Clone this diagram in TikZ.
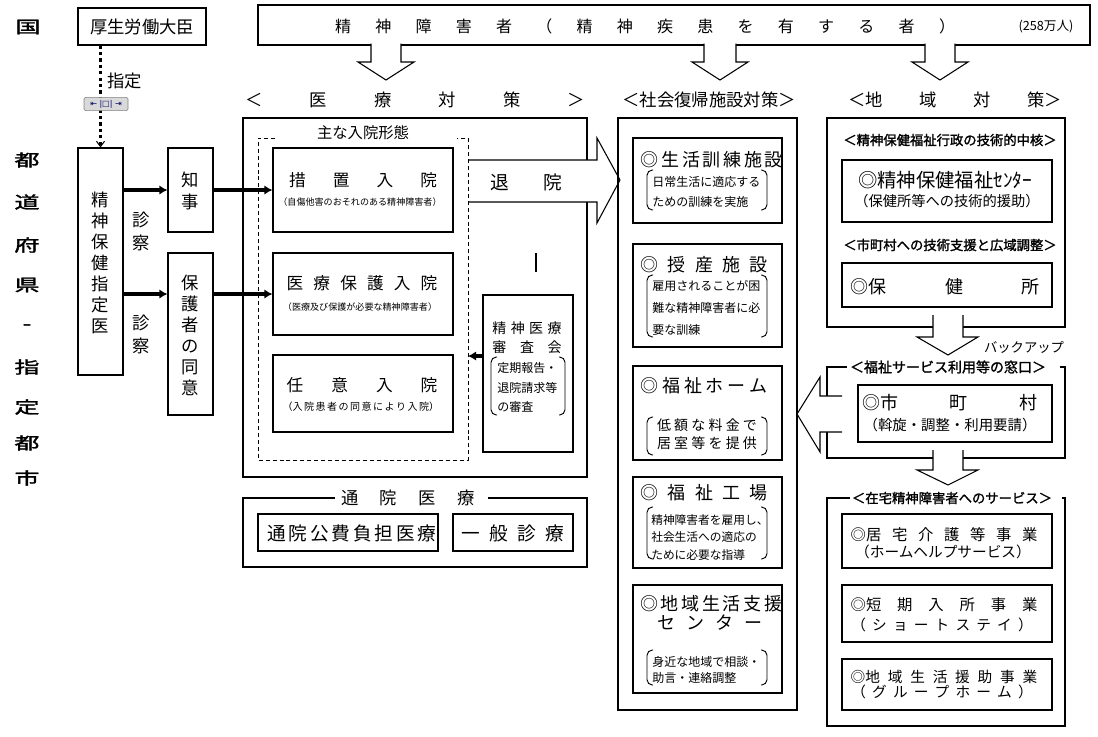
\documentclass[tikz,border=0pt]{standalone}
\usepackage{fontspec}
\setmainfont{Noto Sans CJK JP}
\newfontfamily\jb[FakeBold=1.6]{Noto Sans CJK JP}
\newfontfamily\dv{DejaVu Sans}
\usetikzlibrary{fit,arrows.meta}
\newcommand\jfs[2]{\fontsize{#1}{#2}\selectfont}
\newcommand\sprd[2]{\makebox[#1][s]{#2}}
\newcommand\jbrk[4]{%
  \draw[line width=0.7pt, rounded corners=4pt] (#1+6,#2) -- (#1,#2) -- (#1,#4) -- (#1+6,#4);
  \draw[line width=0.7pt, rounded corners=4pt] (#3-6,#2) -- (#3,#2) -- (#3,#4) -- (#3-6,#4);}
\begin{document}
\begin{tikzpicture}[x=0.75pt,y=-0.75pt,
  bx/.style={draw, line width=0.8pt, inner sep=0pt, fit={#1}},
  tbx/.style={draw, line width=2pt, inner sep=0pt, fit={#1}},
  t/.style={inner sep=0pt, align=center},
  bt/.style={inner sep=0pt, align=center, font=\jb\jfs{10pt}{12pt}},
  tarr/.style={line width=3pt, -{Latex[length=6pt,width=7pt]}},
  barrow/.style={draw, line width=0.8pt, fill=white},
  thk/.style={line width=2pt},
  dline/.style={line width=2.4pt, dash pattern=on 2.4pt off 2.4pt, -{Straight Barb[length=4pt,width=6pt,line width=0.8pt]}},
]
\useasboundingbox (0,0) rectangle (1098,736);

% ---- left labels
\node[t, font=\jb\jfs{12.5pt}{14pt}, xscale=1.5] (kuni) at (28,27) {国};
\foreach \c/\yy [count=\i] in {都/160,道/202,府/245,県/285,-/327,指/367,定/407,都/443,市/478}
  \node[t, font=\jb\jfs{12.5pt}{14pt}, xscale=1.5] (pref\i) at (27,\yy) {\c};

% ---- minister
\node[bx={(78,8) (206,45)}] (mhlw) {};
\node[t, font=\jfs{13pt}{15pt}] (mhlwT) at (mhlw.center) {厚生労働大臣};

% ---- banner
\node[bx={(258,5) (1090,45)}] (banner) {};
\node[t, font=\jfs{12pt}{14pt}] (bannerT) at (645,26) {\sprd{465pt}{精 神 障 害 者 （ 精 神 疾 患 を 有 す る 者 ）}};
\node[t, font=\jfs{9.5pt}{11pt}] (bannerN) at (1046,27) {(258万人)};
\draw[barrow] (371,43.5) -- (371,62) -- (358,62) -- (386,80) -- (414,62) -- (401,62) -- (401,43.5);
\draw[barrow] (704,43.5) -- (704,62) -- (692,62) -- (720,80) -- (748,62) -- (736,62) -- (736,43.5);
\draw[barrow] (925,43.5) -- (925,62) -- (912,62) -- (940,80) -- (968,62) -- (955,62) -- (955,43.5);

% ---- section headings
\node[t, font=\jfs{13pt}{15pt}] (h1) at (415,100) {\sprd{255pt}{＜ 医 療 対 策 ＞}};
\node[t, font=\jfs{13pt}{15pt}] (h2) at (711,100) {\sprd{133pt}{＜社会復帰施設対策＞}};
\node[t, font=\jfs{13pt}{15pt}] (h3) at (955,100) {\sprd{160pt}{＜地 域 対 策＞}};

% ---- prefecture column
\node[bx={(78,148) (123,375)}] (shitei) {};
\node[t, font=\jfs{13pt}{15.75pt}] (shiteiT) at (100.5,263) {精\\神\\保\\健\\指\\定\\医};
\node[bx={(168,148) (213,232)}] (chiji) {};
\node[t, font=\jfs{13pt}{16.5pt}] (chijiT) at (190.5,191) {知\\事};
\node[bx={(168,253) (213,415)}] (hogo) {};
\node[t, font=\jfs{13pt}{15.75pt}] (hogoT) at (190.5,335.5) {保\\護\\者\\の\\同\\意};
\node[t, font=\jfs{13pt}{17.25pt}] (shin1) at (141,231.5) {診\\察};
\node[t, font=\jfs{13pt}{17.25pt}] (shin2) at (141,334) {診\\察};

\draw[dline] (shitei.north |- mhlw.south) -- (shitei.north);
\node[t, anchor=west, font=\jfs{13pt}{15pt}] (shiteiL) at (107,81) {指定};
\node[draw=gray, fill=gray!30, rounded corners=1pt, inner sep=0.5pt, minimum width=33pt, minimum height=10pt,
      font=\dv\fontsize{6pt}{7pt}\selectfont, text=blue!40!black] (handle) at (106,104) {⇤ |□| ⇥};

% ---- medical box
\node[tbx={(243,118) (587,477)}] (med) {};
\draw[barrow] (468,160) -- (597,160) -- (597,138) -- (620,180) -- (597,223) -- (597,202) -- (468,202);
\node[t, font=\jfs{14pt}{16pt}] (taiinT) at (526,182) {\sprd{54pt}{退 院}};
\draw[line width=0.7pt, dash pattern=on 3pt off 2.2pt] (275,138) -- (258,138) -- (258,460) -- (468,460) -- (468,138) -- (457,138);
\node[t, font=\jfs{11.5pt}{13pt}] (keitai) at (363,133) {主な入院形態};
\coordinate (dashR) at (468,356);

\node[bx={(273,148) (453,232)}] (sochi) {};
\node[t, font=\jfs{12.5pt}{15pt}] (sochiT) at (363,180) {\sprd{111pt}{措 置 入 院}};
\node[t, font=\jfs{6.8pt}{8pt}] (sochiS) at (360,202) {（自傷他害のおそれのある精神障害者）};
\node[bx={(273,253) (453,335)}] (iryo) {};
\node[t, font=\jfs{12.5pt}{15pt}] (iryoT) at (362,283) {\sprd{113pt}{医 療 保 護 入 院}};
\node[t, font=\jfs{6.8pt}{8pt}] (iryoS) at (360,307) {（医療及び保護が必要な精神障害者）};
\node[bx={(273,355) (453,432)}] (nini) {};
\node[t, font=\jfs{12.5pt}{15pt}] (niniT) at (362,385) {\sprd{113pt}{任 意 入 院}};
\node[t, font=\jfs{7.5pt}{9pt}] (niniS) at (360,407) {\sprd{116pt}{（入 院 患 者 の 同 意 に よ り 入 院）}};

\draw[line width=1.2pt] (536,253) -- (536,272);

\node[bx={(483,295) (573,452)}] (shinsa) {};
\node[t, font=\jfs{10.5pt}{14.25pt}] (shinsaT) at (527,337.5) {\sprd{52pt}{精 神 医 療}\\\sprd{52pt}{審 査 会}};
\jbrk{491}{357}{565}{415}
\node[t, anchor=west, align=left, font=\jfs{9pt}{14.6pt}] (shinsaS) at (497,387.5) {定期報告・\\退院請求等\\の審査};

\draw[tarr] (shitei.east |- chiji.center) -- (chiji.west);
\draw[tarr] (chiji.east) -- (sochi.west |- chiji.center);
\draw[tarr] (shitei.east |- iryo.center) -- (hogo.west |- iryo.center);
\draw[tarr] (hogo.east |- iryo.center) -- (iryo.west);
\draw[tarr] (shinsa.west |- dashR) -- (dashR);

% ---- outpatient
\draw[thk] (335,498) -- (243,498) -- (243,567) -- (587,567) -- (587,498) -- (488,498);
\node[t, font=\jfs{13pt}{15pt}] (tsuinT) at (408,498) {\sprd{100pt}{通 院 医 療}};
\node[bx={(258,514) (438,551)}] (kouhi) {};
\node[t, font=\jfs{14pt}{16pt}] (kouhiT) at (348,533) {\sprd{121pt}{通 院 公 費 負 担 医 療}};
\node[bx={(453,514) (573,551)}] (ippan) {};
\node[t, font=\jfs{14pt}{16pt}] (ippanT) at (513,533) {\sprd{77pt}{一 般 診 療}};

% ---- social rehabilitation
\node[tbx={(618,118) (797,710)}] (social) {};
\node[bx={(633,138) (782,223)}] (s1) {};
\node[t, font=\jfs{13.5pt}{16pt}] (s1T) at (704,160) {\sprd{95pt}{◎ 生 活 訓 練 施 設}};
\jbrk{647}{170}{767}{210}
\node[t, anchor=west, align=left, font=\jfs{9pt}{15pt}] (s1S) at (652,192) {日常生活に適応する\\ための訓練を実施};

\node[bx={(633,244) (782,347)}] (s2) {};
\node[t, font=\jfs{13.5pt}{16pt}] (s2T) at (704,265) {\sprd{95pt}{◎ 授 産 施 設}};
\jbrk{647}{275}{767}{337}
\node[t, anchor=west, align=left, font=\jfs{9pt}{16.5pt}] (s2S) at (652,308) {雇用されることが困\\難な精神障害者に必\\要な訓練};

\node[bx={(633,366) (782,460)}] (s3) {};
\node[t, font=\jfs{13.5pt}{16pt}] (s3T) at (704,386) {\sprd{95pt}{◎ 福 祉 ホ ー ム}};
\jbrk{647}{417}{767}{455}
\node[t, font=\jfs{10.5pt}{13.5pt}] (s3S) at (707,434) {\sprd{75pt}{低 額 な 料 金 で}\\\sprd{75pt}{居 室 等 を 提 供}};

\node[bx={(633,477) (782,568)}] (s4) {};
\node[t, font=\jfs{13.5pt}{16pt}] (s4T) at (704,493) {\sprd{95pt}{◎ 福 祉 工 場}};
\jbrk{647}{507}{767}{559}
\node[t, anchor=west, align=left, font=\jfs{8.8pt}{13.1pt}] (s4S) at (651,537.5) {精神障害者を雇用し、\\社会生活への適応の\\ために必要な指導};

\node[bx={(633,585) (782,693)}] (s5) {};
\node[t, font=\jfs{13.5pt}{16pt}] (s5T) at (704,604) {\sprd{96pt}{◎ 地 域 生 活 支 援}};
\node[t, font=\jfs{13.5pt}{16pt}] (s5T2) at (710,623) {\sprd{79pt}{セ ン タ ー}};
\jbrk{647}{650}{767}{685}
\node[t, anchor=west, align=left, font=\jfs{9pt}{12pt}] (s5S) at (652,670) {身近な地域で相談・\\助言・連絡調整};

% ---- community
\node[tbx={(827,118) (1065,327)}] (center) {};
\node[bt] (l1) at (950,140) {＜精神保健福祉行政の技術的中核＞};
\node[bx={(842,160) (1052,222)}] (c1) {};
\node[t, font=\jfs{14.5pt}{16pt}] (c1T) at (945,180) {◎精神保健福祉ｾﾝﾀｰ};
\node[t, font=\jfs{10.7pt}{12pt}] (c1S) at (947,201) {（保健所等への技術的援助）};
\node[bt] (l2) at (950,245) {＜市町村への技術支援と広域調整＞};
\node[bx={(842,263) (1052,307)}] (c2) {};
\node[t, font=\jfs{13.5pt}{16pt}] (c2T) at (945,287) {\sprd{142pt}{◎保 健 所}};
\draw[barrow] (933,315) -- (933,337) -- (917,337) -- (948,355) -- (978,337) -- (963,337) -- (963,315);
\node[t, font=\jfs{10pt}{12pt}] (backup) at (1024,347) {バックアップ};

\draw[thk] (847,367) -- (827,367) -- (827,458) -- (1065,458) -- (1065,367) -- (1060,367);
\node[bt, font=\jb\jfs{10.5pt}{12pt}] (l3) at (948,367) {＜福祉サービス利用等の窓口＞};
\node[bx={(858,385) (1052,442)}] (c3) {};
\node[t, font=\jfs{13.5pt}{16pt}] (c3T) at (950,403) {\sprd{131pt}{◎市 町 村}};
\node[t, font=\jfs{10.8pt}{12pt}] (c3S) at (950,425) {（斡旋・調整・利用要請）};
\draw[barrow] (842,396) -- (820,396) -- (820,377) -- (797,414) -- (820,452) -- (820,432) -- (842,432);
\draw[barrow] (933,450) -- (933,470) -- (917,470) -- (948,485) -- (978,470) -- (963,470) -- (963,450);

\draw[thk] (850,498) -- (827,498) -- (827,726) -- (1065,726) -- (1065,498) -- (1062,498);
\node[bt] (l4) at (952,498) {＜在宅精神障害者へのサービス＞};
\node[bx={(842,514) (1052,568)}] (d1) {};
\node[t, font=\jfs{11.5pt}{13pt}] (d1T) at (944,535) {\sprd{140pt}{◎居 宅 介 護 等 事 業}};
\node[t, font=\jfs{11pt}{13pt}] (d1S) at (943,552) {（ホームヘルプサービス）};
\node[bx={(842,585) (1052,642)}] (d2) {};
\node[t, font=\jfs{11.5pt}{13pt}] (d2T) at (944,605) {\sprd{140pt}{◎短 期 入 所 事 業}};
\node[t, font=\jfs{11pt}{13pt}] (d2S) at (942,625) {\sprd{136pt}{（ シ ョ ー ト ス テ イ ）}};
\node[bx={(842,659) (1052,710)}] (d3) {};
\node[t, font=\jfs{11pt}{13pt}] (d3T) at (944,677) {\sprd{140pt}{◎地 域 生 活 援 助 事 業}};
\node[t, font=\jfs{11pt}{13pt}] (d3S) at (942,692) {\sprd{136pt}{（ グ ル ー プ ホ ー ム ）}};
\end{tikzpicture}
\end{document}
